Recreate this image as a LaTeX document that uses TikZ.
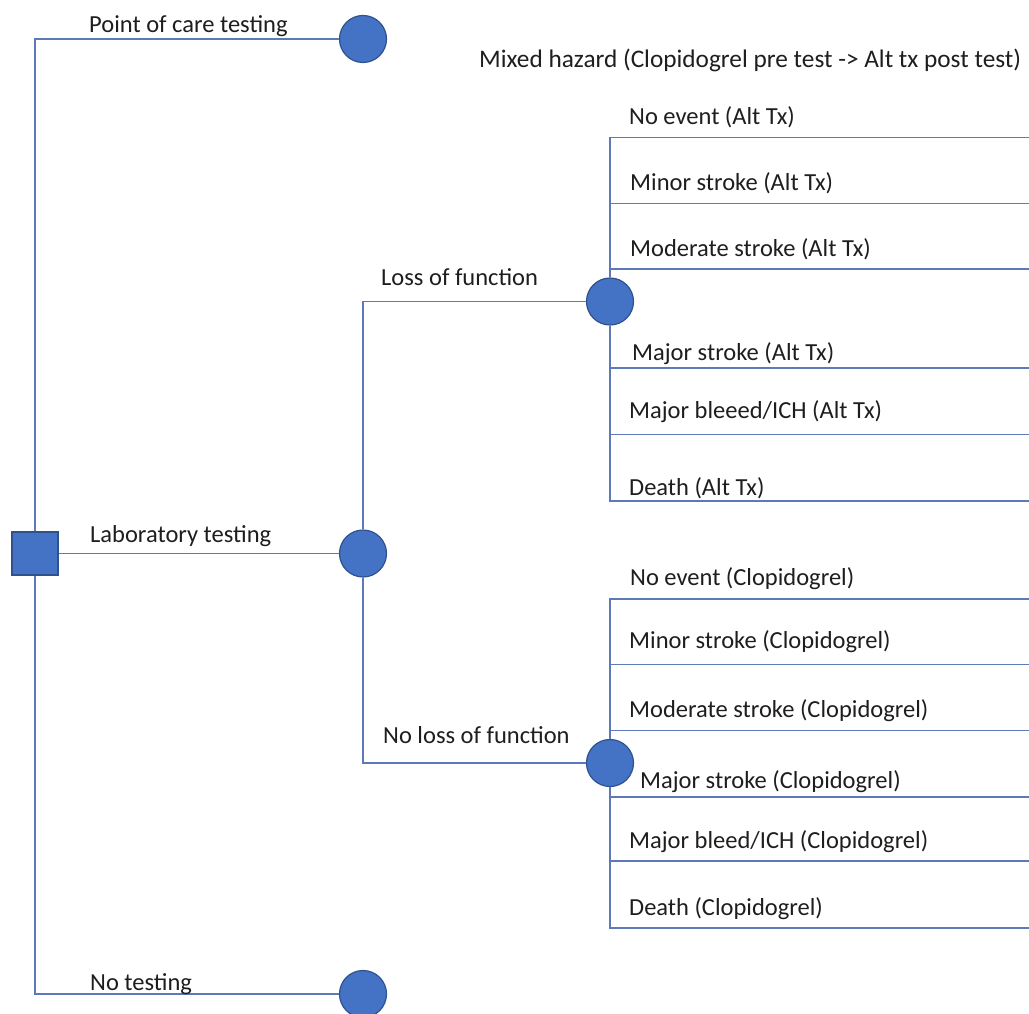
\documentclass[tikz,border=0pt]{standalone}
\usepackage{fontspec}
\setmainfont{Carlito}
\usepackage{tikz}
\usetikzlibrary{positioning}
\definecolor{nodeblue}{RGB}{68,114,196}
\definecolor{edgeblue}{RGB}{47,82,143}
\definecolor{lineblue}{RGB}{92,122,186}
\definecolor{txt}{RGB}{30,30,30}
\newcommand\lbfont{\fontsize{24.5}{29}\selectfont}

\begin{document}
\begin{tikzpicture}[x=1pt,y=-1pt,
  chance/.style={circle, fill=nodeblue, draw=edgeblue, line width=1.2pt, minimum size=47pt, inner sep=0pt},
  decision/.style={rectangle, fill=nodeblue, draw=edgeblue, line width=1.2pt, minimum width=46pt, minimum height=43pt, inner sep=0pt},
  branch/.style={draw=lineblue, line width=1.4pt},
  lbl/.style={anchor=base west, inner sep=0pt, text=txt, font=\lbfont}]
\useasboundingbox (0,0) rectangle (1029,1014);

% decision and chance nodes
\node[decision] (root) at (35,553.5) {};
\node[chance] (poc) at (363,39) {};
\node[chance] (lab) at (363,553.5) {};
\node[chance] (none) at (363,994) {};
\node[chance] (lof) at (610,301.5) {};
\node[chance] (nolof) at (610,763) {};

% first level
\draw[branch] (root) |- (poc);
\draw[branch] (root) -- (lab);
\draw[branch] (root) |- (none);
\node[lbl] (poclbl) at (89,33) {Point of care testing};
\node[lbl] (lablbl) at (90,542.5) {Laboratory testing};
\node[lbl] (nonelbl) at (90,990) {No testing};

% second level
\draw[branch] (lab) |- (lof);
\draw[branch] (lab) |- (nolof);
\node[lbl] (loflbl) at (381,285) {Loss of function};
\node[lbl] (noloflbl) at (383,743) {No loss of function};

\node[lbl, font=\fontsize{25.3}{30}\selectfont] (mixed) at (479,68) {Mixed hazard (Clopidogrel pre test -> Alt tx post test)};

% outcomes, loss of function
\foreach \n/\y/\xl/\bl/\txt in {1/137.7/629/125/{No event (Alt Tx)},
    2/203.5/630/190.5/{Minor stroke (Alt Tx)},
    3/269/630/256.5/{Moderate stroke (Alt Tx)},
    4/368/632/360/{Major stroke (Alt Tx)},
    5/434.5/629/418.5/{Major bleeed/ICH (Alt Tx)},
    6/501/629/495.5/{Death (Alt Tx)}}{
  \coordinate (alt\n) at (1029,\y);
  \draw[branch] (lof) |- (alt\n);
  \node[lbl] (altlbl\n) at (\xl,\bl) {\txt};
}

% outcomes, no loss of function
\foreach \n/\y/\xl/\bl/\txt in {1/599/630/585/{No event (Clopidogrel)},
    2/664.5/629/648.5/{Minor stroke (Clopidogrel)},
    3/730.5/629/717/{Moderate stroke (Clopidogrel)},
    4/797/640/788/{Major stroke (Clopidogrel)},
    5/861/629/848/{Major bleed/ICH (Clopidogrel)},
    6/928/629/915/{Death (Clopidogrel)}}{
  \coordinate (clo\n) at (1029,\y);
  \draw[branch] (nolof) |- (clo\n);
  \node[lbl] (clolbl\n) at (\xl,\bl) {\txt};
}
\end{tikzpicture}
\end{document}
